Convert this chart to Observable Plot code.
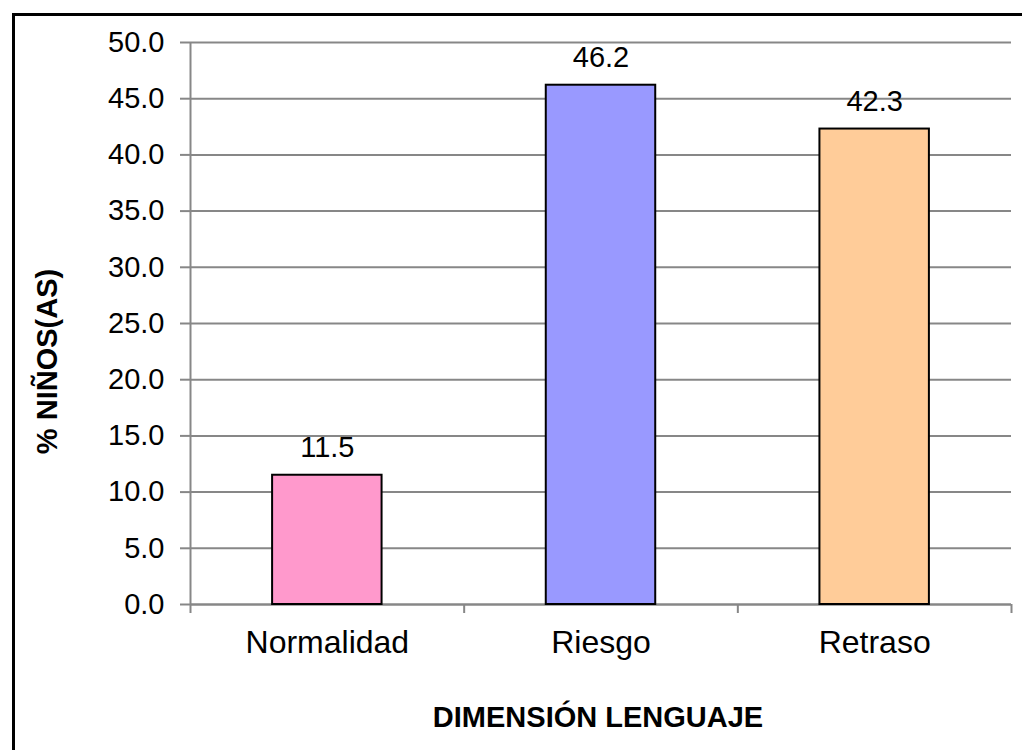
<!DOCTYPE html>
<html>
<head>
<meta charset="utf-8">
<script src="https://cdn.jsdelivr.net/npm/d3@7"></script>
<script src="https://cdn.jsdelivr.net/npm/@observablehq/plot@0.6"></script>
<style>
  html, body { margin: 0; padding: 0; background: #fff; overflow: hidden; }
  #wrap { position: relative; width: 1022px; height: 750px; }
  #frame { position: absolute; left: 12px; top: 13px; width: 1100px; height: 800px;
           border: 3px solid #000; box-sizing: border-box; pointer-events: none; }
</style>
</head>
<body>
<div id="wrap"><div id="frame"></div></div>
<script>
const categories = ["Normalidad", "Riesgo", "Retraso"];
const values = [11.5, 46.2, 42.3];
const colors = ["#FF99CC", "#9999FF", "#FFCC99"];
const yTicks = [0, 5, 10, 15, 20, 25, 30, 35, 40, 45, 50];
const xTitle = "DIMENSIÓN LENGUAJE";
const yTitle = "% NIÑOS(AS)";

const table = categories.map((c, i) => ({
  category: c, value: values[i], color: colors[i],
  i0: i + 0.3, i1: i + 0.7, mid: i + 0.5
}));
const boundaries = d3.range(categories.length + 1);
const gray = "#878787";

const chart = Plot.plot({
  width: 1022,
  height: 750,
  marginLeft: 190,
  marginRight: 11,
  marginTop: 42,
  marginBottom: 146,
  style: { fontFamily: "'Liberation Sans', Arial, sans-serif", background: "transparent", color: "#000", overflow: "visible" },
  x: { domain: [0, categories.length] },
  y: { domain: [0, 50] },
  marks: [
    Plot.gridY(yTicks, { stroke: gray, strokeOpacity: 1, strokeWidth: 2 }),
    Plot.ruleX([0], { stroke: gray, strokeWidth: 2 }),
    Plot.ruleY([0], { stroke: gray, strokeWidth: 2 }),
    Plot.axisY(yTicks, { tickSize: 10, tickPadding: 16, tickFormat: d => d.toFixed(1), stroke: gray, strokeWidth: 2, fill: "#000", fontSize: 29, label: null }),
    Plot.axisX(boundaries, { tickSize: 9, tickFormat: () => "", stroke: gray, strokeWidth: 2, label: null }),
    Plot.rect(table, { x1: "i0", x2: "i1", y1: 0, y2: "value", fill: "color", stroke: "#000", strokeWidth: 2 }),
    Plot.text(table, { x: "mid", y: "value", text: d => d.value.toFixed(1), dy: -18, lineAnchor: "bottom", fontSize: 29, fill: "#000" }),
    Plot.text(table, { x: "mid", text: "category", frameAnchor: "bottom", dy: 48, lineAnchor: "bottom", fontSize: 32, fill: "#000" }),
    Plot.text([xTitle], { frameAnchor: "bottom", dy: 122, dx: -3, lineAnchor: "bottom", fontSize: 29, fontWeight: "bold", fill: "#000" }),
    Plot.text([yTitle], { frameAnchor: "left", rotate: -90, textAnchor: "middle", dx: -134, dy: 38, lineAnchor: "bottom", fontSize: 29, fontWeight: "bold", fill: "#000" })
  ]
});
document.getElementById("wrap").insertBefore(chart, document.getElementById("frame"));
</script>
</body>
</html>
